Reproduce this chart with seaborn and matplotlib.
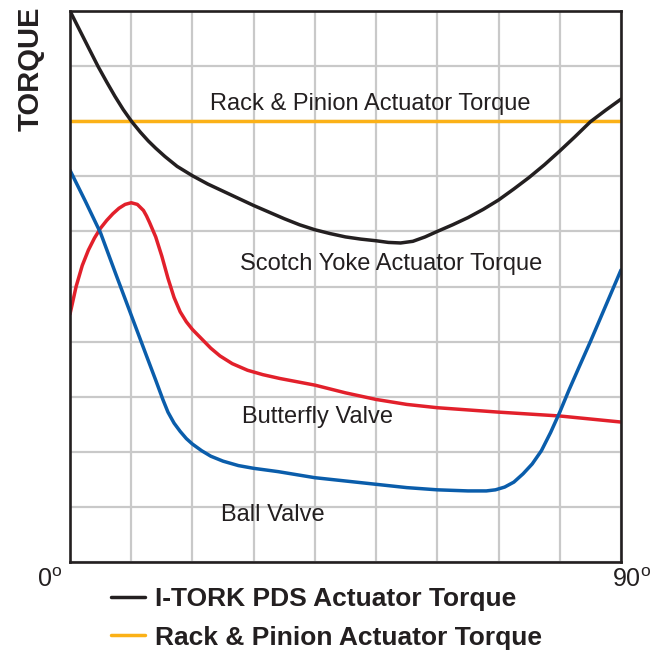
import numpy as np
import pandas as pd
import matplotlib
matplotlib.use("Agg")
import matplotlib.pyplot as plt
import seaborn as sns

# ---- data (angle in degrees, relative torque) ----
itork_x = [0, 1, 2, 3, 4.6, 6, 7.35, 8.7, 10.1, 11.5, 12.8, 14, 15.5, 17.5, 20, 22.5, 25, 27.5, 30, 32.5,
           35, 37.5, 40, 42.5, 45, 47.5, 50, 52, 54, 56, 58, 60, 62.5, 65, 67.5, 70, 72.5, 75, 77.5, 80,
           82.5, 85, 87.5, 90]
itork_y = [10.0, 9.78, 9.56, 9.34, 8.99, 8.71, 8.45, 8.21, 7.99, 7.8, 7.64, 7.51, 7.36, 7.18, 7.01, 6.86,
           6.73, 6.6, 6.47, 6.35, 6.23, 6.12, 6.03, 5.96, 5.9, 5.86, 5.83, 5.8, 5.79, 5.82, 5.9, 6.0, 6.12,
           6.25, 6.4, 6.57, 6.77, 6.98, 7.21, 7.46, 7.72, 7.99, 8.2, 8.4]

rack_x = [0, 90]
rack_y = [8.0, 8.0]

bfly_x = [0, 1, 2, 3, 4, 5, 6, 7, 8, 9, 10, 11, 12, 12.5, 13, 14, 15, 16, 17, 18, 19, 20, 21.5, 23, 24.5,
          26.5, 29, 31.5, 34.3, 40, 45, 50, 55, 60, 70, 80, 90]
bfly_y = [4.5, 5.0, 5.38, 5.66, 5.88, 6.06, 6.2, 6.32, 6.42, 6.49, 6.52, 6.49, 6.38, 6.28, 6.16, 5.9,
          5.55, 5.15, 4.8, 4.54, 4.36, 4.22, 4.05, 3.88, 3.74, 3.6, 3.48, 3.4, 3.33, 3.21, 3.07, 2.95,
          2.86, 2.8, 2.72, 2.65, 2.54]

ball_x = [0, 2.5, 5, 7.5, 10, 12.5, 14, 15.2, 16, 17, 18, 19, 20, 21.5, 23, 25, 27.5, 30, 34, 40, 45,
          50, 55, 60, 65, 68, 69.5, 71, 72.5, 74, 75.5, 77, 78.5, 80, 81.5, 83, 85, 87.5, 90]
ball_y = [7.11, 6.55, 5.97, 5.22, 4.48, 3.74, 3.3, 2.94, 2.72, 2.52, 2.37, 2.24, 2.14, 2.02, 1.92, 1.83,
          1.75, 1.7, 1.64, 1.53, 1.47, 1.41, 1.35, 1.31, 1.29, 1.29, 1.31, 1.36, 1.45, 1.6, 1.78, 2.02,
          2.35, 2.72, 3.12, 3.5, 4.0, 4.65, 5.3]

labels = ["I-TORK PDS Actuator Torque", "Rack & Pinion Actuator Torque"]
xtick_labels = ["0", "90"]

C_BLACK = "#231f20"
C_YEL = "#fbb117"
C_RED = "#e2202b"
C_BLUE = "#0a5dab"
C_GRID = "#c9c9c9"

sns.set_theme(style="white")
plt.rcParams["font.family"] = ["Liberation Sans", "DejaVu Sans"]
plt.rcParams["mathtext.fontset"] = "custom"
plt.rcParams["mathtext.rm"] = "Liberation Sans"

fig = plt.figure(figsize=(6.62, 6.52), dpi=100)
ax = fig.add_axes([70 / 662, 90 / 652, 551 / 662, 551 / 652])

lw = 2.5
sns.lineplot(x=rack_x, y=rack_y, ax=ax, color=C_YEL, lw=lw, estimator=None, sort=False)
h_rack = ax.lines[-1]
sns.lineplot(x=bfly_x, y=bfly_y, ax=ax, color=C_RED, lw=lw, estimator=None, sort=False)
sns.lineplot(x=ball_x, y=ball_y, ax=ax, color=C_BLUE, lw=lw, estimator=None, sort=False)
sns.lineplot(x=itork_x, y=itork_y, ax=ax, color=C_BLACK, lw=lw, estimator=None, sort=False)
h_itork = ax.lines[-1]
for ln in ax.lines:
    ln.set_solid_joinstyle("round")

ax.set_xlim(0, 90)
ax.set_ylim(0, 10)
ax.set_xticks(np.arange(0, 91, 10))
ax.set_yticks(np.arange(0, 11, 1))
ax.tick_params(length=0, labelbottom=False, labelleft=False)
ax.grid(True, color=C_GRID, lw=1.6)
ax.set_axisbelow(True)
for s in ax.spines.values():
    s.set_color(C_BLACK)
    s.set_linewidth(1.9)
ax.set_xlabel("")

ax.set_ylabel("TORQUE", fontsize=21, fontweight="bold", color=C_BLACK)
ax.yaxis.set_label_coords(-0.046, 0.896)

# x end labels
ax.annotate(xtick_labels[0] + r"$^{\mathregular{o}}$", xy=(0, 0), xycoords=("data", "axes fraction"),
            xytext=(-8, -6), textcoords="offset pixels", ha="right", va="top",
            fontsize=18, color=C_BLACK)
ax.annotate(xtick_labels[1] + r"$^{\mathregular{o}}$", xy=(90, 0), xycoords=("data", "axes fraction"),
            xytext=(-9, -6), textcoords="offset pixels", ha="left", va="top",
            fontsize=18, color=C_BLACK)

# in-plot labels
tkw = dict(fontsize=17, color=C_BLACK, ha="center", va="baseline")
ax.text(49.0, 8.2, "Rack & Pinion Actuator Torque", **tkw)
ax.text(52.5, 5.3, "Scotch Yoke Actuator Torque", **tkw)
ax.text(40.5, 2.52, "Butterfly Valve", **tkw)
ax.text(33.2, 0.74, "Ball Valve", **tkw)

leg = fig.legend([h_itork, h_rack], labels, loc="upper left",
                 bbox_to_anchor=(111 / 662, 1 - 587 / 652), frameon=False,
                 borderpad=0, borderaxespad=0, handlelength=1.29, handletextpad=0.38,
                 labelspacing=0.55, prop={"size": 19, "weight": "bold"})
for t in leg.get_texts():
    t.set_color(C_BLACK)

fig.savefig("out.png", dpi=100)
